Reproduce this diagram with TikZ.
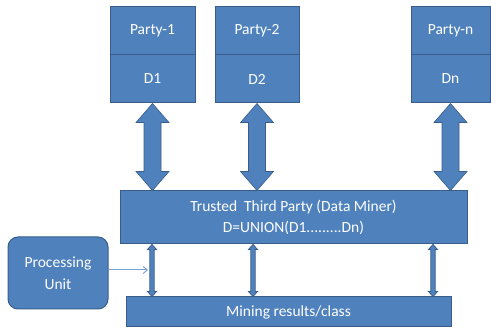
\documentclass[tikz,border=0pt]{standalone}
\usepackage{fontspec}
\setmainfont{Carlito}
\usetikzlibrary{arrows.meta, calc}
\definecolor{boxblue}{RGB}{79,129,189}
\definecolor{edgeblue}{RGB}{56,93,138}
\definecolor{feedblue}{RGB}{120,160,210}

% vertical block arrow with a head at both ends: style, upper point, lower point,
% half shaft, half head, head length
\newcommand{\vdblarrow}[6]{%
  \path[#1] let \p1=(#2), \p2=(#3) in
    (\x1,\y1) -- (\x1+#5,\y1-#6) -- (\x1+#4,\y1-#6) -- (\x1+#4,\y2+#6)
    -- (\x1+#5,\y2+#6) -- (\x1,\y2) -- (\x1-#5,\y2+#6) -- (\x1-#4,\y2+#6)
    -- (\x1-#4,\y1-#6) -- (\x1-#5,\y1-#6) -- cycle;}

\begin{document}
\begin{tikzpicture}[
  x=1pt, y=-1pt,
  blk/.style      = {draw=edgeblue, line width=1pt, fill=boxblue, text=white,
                     align=center, inner sep=0pt,
                     font=\fontsize{15.5}{21}\selectfont},
  partybox/.style = {blk, minimum height=48pt},
  puboxs/.style   = {blk, rounded corners=10pt, font=\fontsize{15.5}{22}\selectfont},
  bigarr/.style   = {fill=boxblue, draw=edgeblue, line width=0.6pt},
  smallarr/.style = {fill=boxblue, draw=edgeblue, line width=0.8pt},
  feed/.style     = {-{Straight Barb[length=4pt,width=7pt]}, draw=feedblue, line width=1pt},
]
\useasboundingbox (0,0) rectangle (491,328);

% ---------- parties ----------
\node[partybox, minimum width=85pt] (p1name) at (152.5,31) {Party-1};
\node[partybox, minimum width=85pt] (p1data) at (152.5,79) {D1};
\node[partybox, minimum width=84pt] (p2name) at (257,31)   {Party-2};
\node[partybox, minimum width=84pt] (p2data) at (257,79)   {D2};
\node[partybox, minimum width=79pt] (pnname) at (450.5,31) {Party-n};
\node[partybox, minimum width=79pt] (pndata) at (450.5,79) {Dn};

% ---------- trusted third party and results ----------
\node[blk, minimum width=347pt, minimum height=53pt] (ttp) at (293.5,217.5)
  {Trusted\ \ Third Party (Data Miner)\\D=UNION(D1.........Dn)};
\node[blk, minimum width=325pt, minimum height=30pt] (mine) at (288.5,312)
  {Mining results/class};
\node[puboxs, minimum width=100pt, minimum height=72pt] (pu) at (58,273)
  {Processing\\Unit};

% ---------- exchanges ----------
\vdblarrow{bigarr}{p1data.south}{ttp.north -| p1data.south}{8.5pt}{16.5pt}{19pt}
\vdblarrow{bigarr}{p2data.south}{ttp.north -| p2data.south}{8.5pt}{16.5pt}{19pt}
\vdblarrow{bigarr}{pndata.south}{ttp.north -| pndata.south}{8.5pt}{16.5pt}{19pt}

\coordinate (col1) at (152,0);
\coordinate (col2) at (253,0);
\coordinate (col3) at (433,0);
\vdblarrow{smallarr}{ttp.south -| col1}{mine.north -| col1}{2.2pt}{4.5pt}{5pt}
\vdblarrow{smallarr}{ttp.south -| col2}{mine.north -| col2}{2.2pt}{4.5pt}{5pt}
\vdblarrow{smallarr}{ttp.south -| col3}{mine.north -| col3}{2.2pt}{4.5pt}{5pt}

% processing unit feeds the first link
\coordinate (puin) at (148,270);
\draw[feed] (pu.east |- puin) -- (puin);

\end{tikzpicture}
\end{document}
